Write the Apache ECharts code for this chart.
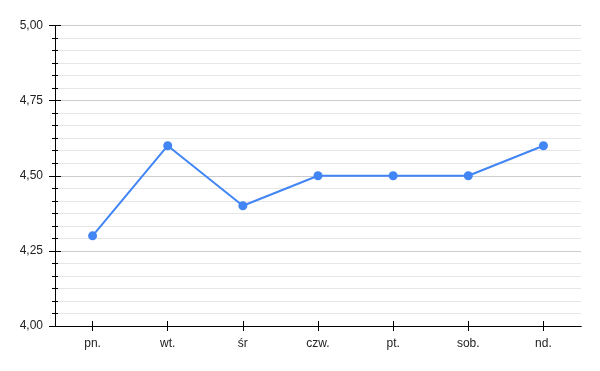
<!DOCTYPE html>
<html><head><meta charset="utf-8">
<script src="https://cdn.jsdelivr.net/npm/echarts@6/dist/echarts.min.js"></script>
<style>html,body{margin:0;padding:0;background:#fff}#c{width:600px;height:371px}</style>
</head><body><div id="c"></div>
<script>
const categories = ['pn.', 'wt.', 'śr', 'czw.', 'pt.', 'sob.', 'nd.'];
const values = [4.3, 4.6, 4.4, 4.5, 4.5, 4.5, 4.6];
const yMin = 4, yMax = 5, yInterval = 0.25;

const chart = echarts.init(document.getElementById('c'), null, {renderer: 'canvas'});
const font = {fontFamily: 'Liberation Sans, Arial, sans-serif', fontSize: 12, color: '#222'};
const fmt = v => v.toFixed(2).replace('.', ',');
const yBase = {
  type: 'value', min: yMin, max: yMax, interval: yInterval, position: 'left', offset: 0,
  axisLine: {show: true, lineStyle: {color: '#000', width: 1}}
};
const xBase = {
  type: 'category', data: categories, position: 'bottom', offset: 0,
  axisLine: {show: true, lineStyle: {color: '#000', width: 1}},
  axisTick: {alignWithLabel: true}
};
chart.setOption({
  animation: false,
  grid: {left: 55, right: 19, top: 25.5, bottom: 45},
  xAxis: [
    Object.assign({}, xBase, {
      axisTick: {show: true, alignWithLabel: true, length: 5, lineStyle: {color: '#000'}},
      axisLabel: Object.assign({margin: 12}, font),
      splitLine: {show: false}
    }),
    Object.assign({}, xBase, {
      axisTick: {show: true, inside: true, alignWithLabel: true, length: 5, lineStyle: {color: '#000'}},
      axisLabel: {show: false},
      splitLine: {show: false}
    })
  ],
  yAxis: [
    Object.assign({}, yBase, {
      axisTick: {show: true, length: 6, lineStyle: {color: '#000'}},
      minorTick: {show: true, splitNumber: 6, length: 3, lineStyle: {color: '#000'}},
      axisLabel: Object.assign({margin: 12, formatter: fmt}, font),
      splitLine: {show: true, lineStyle: {color: '#cccccc', width: 1}},
      minorSplitLine: {show: true, lineStyle: {color: '#e6e6e6', width: 1}}
    }),
    Object.assign({}, yBase, {
      axisTick: {show: true, inside: true, length: 6, lineStyle: {color: '#000'}},
      minorTick: {show: true, splitNumber: 6, length: 3, lineStyle: {color: '#000'}},
      axisLabel: {show: false},
      splitLine: {show: false}
    })
  ],
  series: [{
    type: 'line', data: values, xAxisIndex: 0, yAxisIndex: 0,
    symbol: 'circle', symbolSize: 9,
    lineStyle: {color: '#4285f4', width: 2},
    itemStyle: {color: '#4285f4'},
    z: 5
  }]
});
</script></body></html>
